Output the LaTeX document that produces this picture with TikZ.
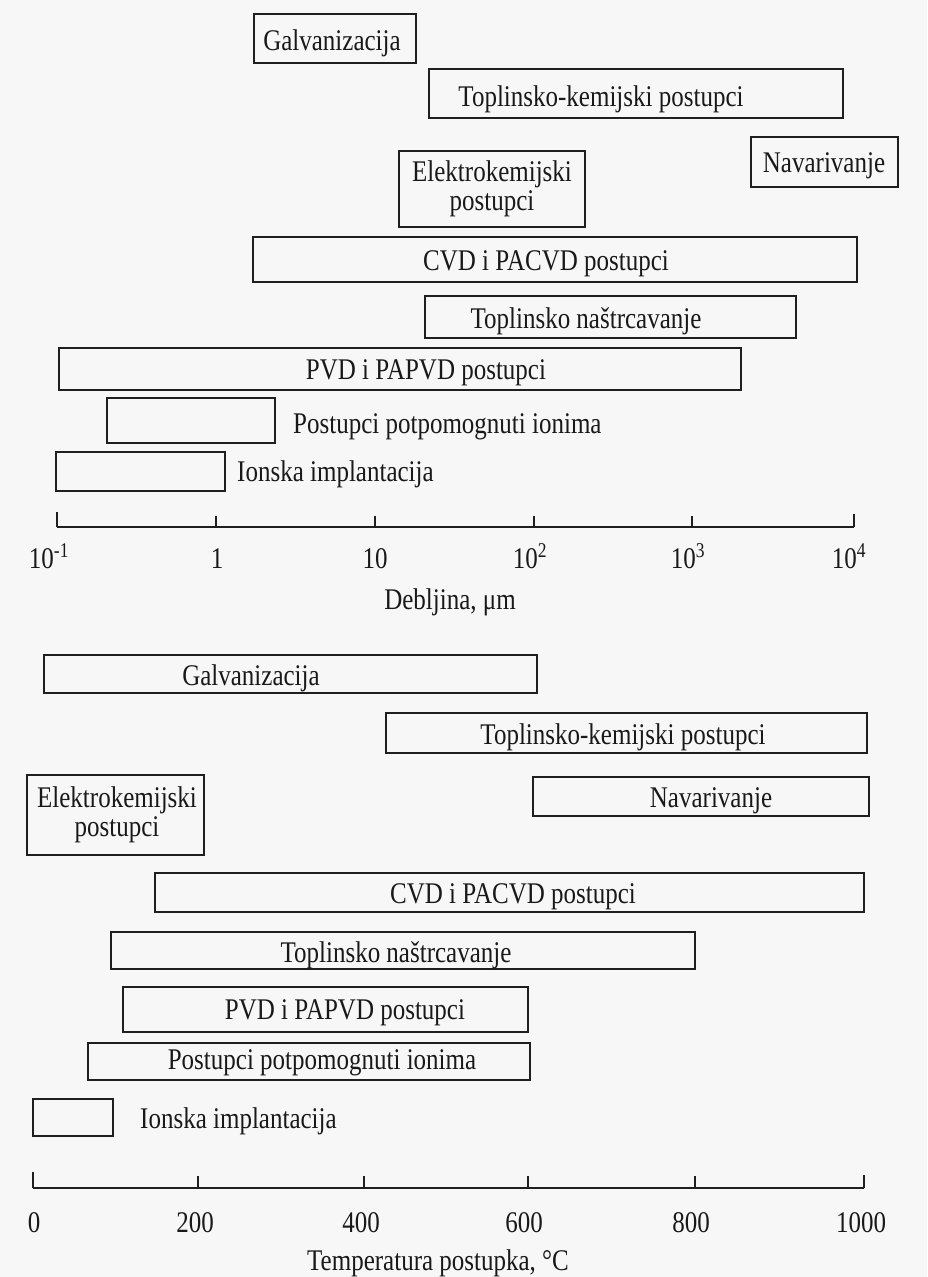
\documentclass[tikz,border=0pt]{standalone}
\usepackage{fontspec}
\setmainfont{Liberation Serif}

\begin{document}
\begin{tikzpicture}[x=1pt, y=-1pt,
        bar/.style={draw=black!88, line width=2.4pt},
        lbl/.style={inner sep=0pt, yscale=1.2, font=\fontsize{25}{24}\selectfont, align=center, text=black!90},
        axisline/.style={draw=black!88, line width=2.6pt},
        tickline/.style={draw=black!88, line width=2pt}]

    \useasboundingbox[fill=black!3] (0,0) rectangle (927,1277);

    % debljina sloja
    \draw[bar] (254,14) rectangle (416,63);
    \node[lbl] (dGalv) at (332,43) {Galvanizacija};

    \draw[bar] (429,69) rectangle (843,118);
    \node[lbl] (dTkem) at (601,99) {Toplinsko-kemijski postupci};

    \draw[bar] (751,137) rectangle (898,187);
    \node[lbl] (dNav) at (824,166) {Navarivanje};

    \draw[bar] (399,151) rectangle (585,227);
    \node[lbl] (dElek) at (492,189) {Elektrokemijski\\postupci};

    \draw[bar] (253,237) rectangle (857,282);
    \node[lbl] (dCvd) at (546,264) {CVD i PACVD postupci};

    \draw[bar] (425,296) rectangle (796,338);
    \node[lbl] (dNast) at (586,321) {Toplinsko naštrcavanje};

    \draw[bar] (59,348) rectangle (741,390);
    \node[lbl] (dPvd) at (426,373) {PVD i PAPVD postupci};

    \draw[bar] (107,398) rectangle (275,443);
    \node[lbl, anchor=west] (dIon) at (293,427) {Postupci potpomognuti ionima};

    \draw[bar] (56,452) rectangle (225,491);
    \node[lbl, anchor=west] (dImpl) at (237,474) {Ionska implantacija};

    \draw[axisline] (57,527) -- (854,527);
    \foreach \x/\h in {57/15, 216/11, 375/11, 534/11, 692/11, 854/13}
        \draw[tickline] (\x,527) -- (\x,527-\h);
    \foreach \x/\t [count=\i] in {49/{10\textsuperscript{-1}}, 217/1, 375/10,
            530/{10\textsuperscript{2}}, 688/{10\textsuperscript{3}}, 849/{10\textsuperscript{4}}}
        \node[lbl, anchor=base] (dTick\i) at (\x,568) {\t};
    \node[lbl] (dTitle) at (450,602) {Debljina, μm};

    % temperatura postupka
    \draw[bar] (44,655) rectangle (537,693);
    \node[lbl] (tGalv) at (251,678) {Galvanizacija};

    \draw[bar] (386,713) rectangle (867,753);
    \node[lbl] (tTkem) at (623,737) {Toplinsko-kemijski postupci};

    \draw[bar] (27,775) rectangle (204,855);
    \node[lbl] (tElek) at (117,815) {Elektrokemijski\\postupci};

    \draw[bar] (533,777) rectangle (869,816);
    \node[lbl] (tNav) at (711,801) {Navarivanje};

    \draw[bar] (155,873) rectangle (864,912);
    \node[lbl] (tCvd) at (513,897) {CVD i PACVD postupci};

    \draw[bar] (111,932) rectangle (695,969);
    \node[lbl] (tNast) at (396,955) {Toplinsko naštrcavanje};

    \draw[bar] (123,987) rectangle (528,1032);
    \node[lbl] (tPvd) at (345,1013) {PVD i PAPVD postupci};

    \draw[bar] (88,1043) rectangle (530,1080);
    \node[lbl] (tIon) at (322,1063) {Postupci potpomognuti ionima};

    \draw[bar] (33,1099) rectangle (113,1136);
    \node[lbl, anchor=west] (tImpl) at (140,1121) {Ionska implantacija};

    \draw[axisline] (33,1188) -- (864,1188);
    \foreach \x/\h in {33/16, 198/12, 364/12, 528/12, 695/12, 864/13}
        \draw[tickline] (\x,1188) -- (\x,1188-\h);
    \foreach \x/\t [count=\i] in {34/0, 195/200, 361/400, 524/600, 691/800, 861/1000}
        \node[lbl, anchor=base] (tTick\i) at (\x,1232) {\t};
    \node[lbl] (tTitle) at (438,1263) {Temperatura postupka, °C};
\end{tikzpicture}
\end{document}
